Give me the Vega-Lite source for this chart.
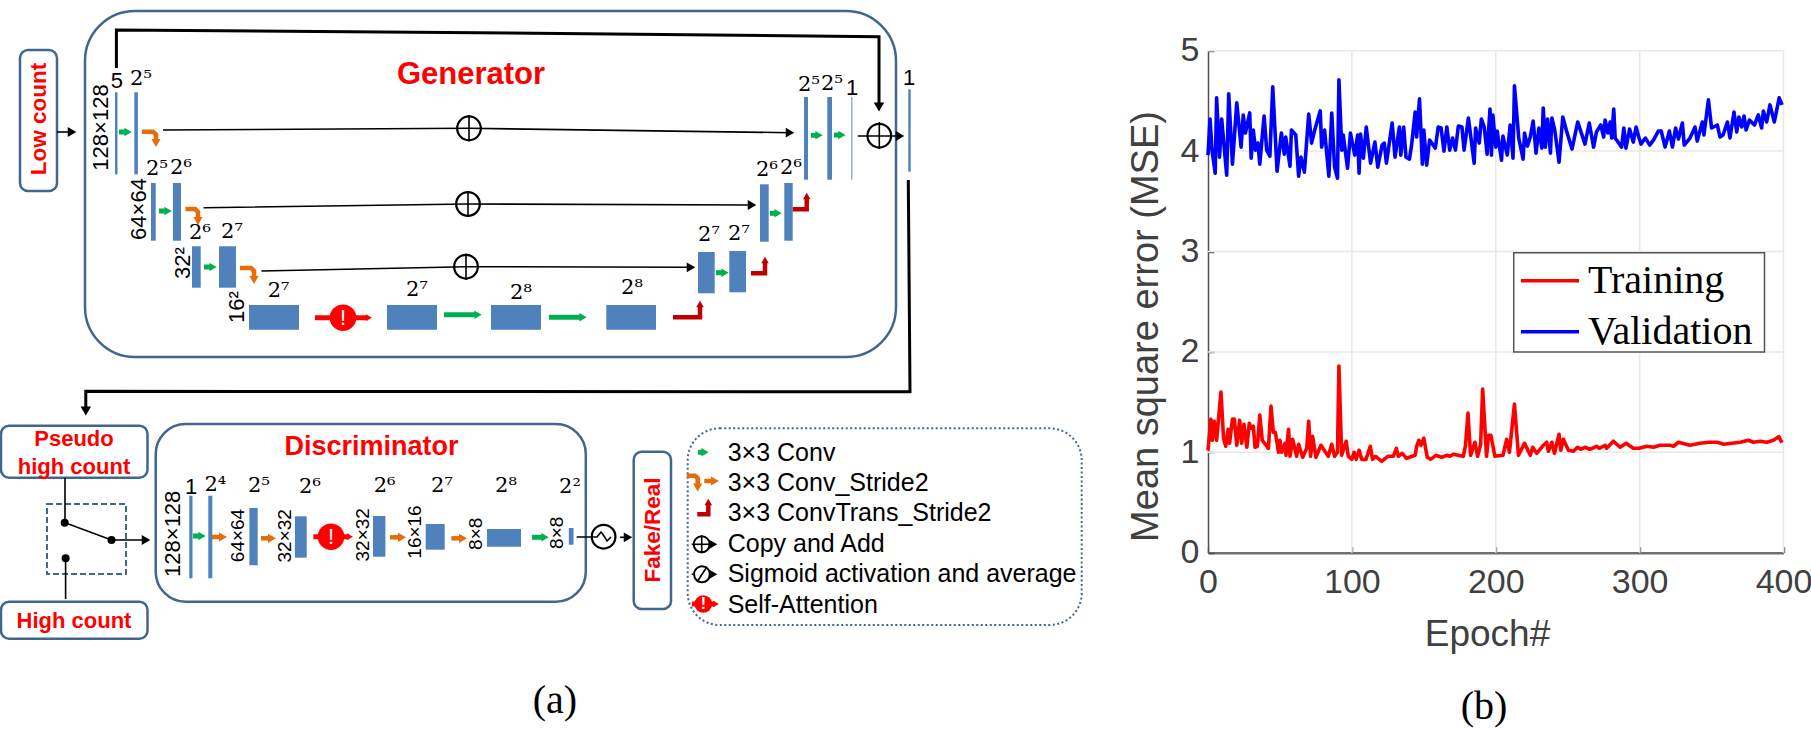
{"$schema":"https://vega.github.io/schema/vega-lite/v6.json","width":1811,"height":729,"autosize":"none","padding":0,"background":"white","config":{"view":{"stroke":null}},
"datasets":{
"bars":[
{"id":"G1","x":115,"x2":117.5,"y":92.3,"y2":174.3},{"id":"G2","x":134.3,"x2":137.9,"y":92.3,"y2":174.3},{"id":"G3","x":151,"x2":155.7,"y":183,"y2":240.7},{"id":"G4","x":172.9,"x2":181,"y":183,"y2":240.7},{"id":"G5","x":192,"x2":200.7,"y":246.3,"y2":287.7},{"id":"G6","x":219,"x2":236,"y":246.3,"y2":287.7},{"id":"B1","x":249,"x2":299,"y":305,"y2":329.7},{"id":"B2","x":387,"x2":437,"y":305,"y2":329.7},{"id":"B3","x":491,"x2":541,"y":305,"y2":329.7},{"id":"B4","x":606.3,"x2":656,"y":305,"y2":329.7},{"id":"R1","x":698,"x2":714.7,"y":252,"y2":293.3},{"id":"R2","x":729.3,"x2":746,"y":251,"y2":292.3},{"id":"R3","x":760,"x2":768.7,"y":184.3,"y2":241.7},{"id":"R4","x":784.3,"x2":792.7,"y":183,"y2":240.7},{"id":"R5","x":804,"x2":808,"y":97,"y2":179.7},{"id":"R6","x":827.3,"x2":832,"y":97,"y2":179.7},{"id":"R7","x":851.4,"x2":852.3,"y":97,"y2":179.7},{"id":"Out","x":908.3,"x2":910.7,"y":89.3,"y2":171.7},
{"id":"D1","x":189.3,"x2":192.5,"y":495.7,"y2":578.3},{"id":"D2","x":208.3,"x2":212.3,"y":495.7,"y2":578.3},{"id":"D3","x":249.4,"x2":257.7,"y":508,"y2":565.3},{"id":"D4","x":294.9,"x2":306.7,"y":516.3,"y2":557.7},{"id":"D5","x":373,"x2":385.4,"y":516,"y2":556.7},{"id":"D6","x":425.7,"x2":444.7,"y":524,"y2":549.7},{"id":"D7","x":487,"x2":521,"y":529,"y2":546.7},{"id":"D8","x":568.8,"x2":573.5,"y":528,"y2":544.7}],
"boxes":[
{"style":"generator","x":85,"x2":896,"y":11,"y2":357},{"style":"discriminator","x":155.7,"x2":585.8,"y":424,"y2":601.7},{"style":"legend","x":687.7,"x2":1081.7,"y":428.3,"y2":625},{"style":"label","x":20,"x2":57,"y":50,"y2":191},{"style":"label","x":1,"x2":147.5,"y":425.7,"y2":477.7},{"style":"label","x":1,"x2":147.5,"y":601.7,"y2":638.7},{"style":"label","x":633.7,"x2":671,"y":451.7,"y2":609},{"style":"switch","x":47,"x2":126,"y":504,"y2":574}],
"lines":[
{"id":"skip","kind":"thick","o":0,"x":116.4,"y":68},{"id":"skip","kind":"thick","o":1,"x":116.4,"y":30},{"id":"skip","kind":"thick","o":2,"x":560,"y":33.5},{"id":"skip","kind":"thick","o":3,"x":879,"y":36.7},{"id":"skip","kind":"thick","o":4,"x":879,"y":106},
{"id":"back","kind":"thick","o":0,"x":908.3,"y":180},{"id":"back","kind":"thick","o":1,"x":910,"y":391.7},{"id":"back","kind":"thick","o":2,"x":85.8,"y":391.3},{"id":"back","kind":"thick","o":3,"x":85.8,"y":410},
{"id":"in","kind":"thin","o":0,"x":57,"y":132},{"id":"in","kind":"thin","o":1,"x":72,"y":132},
{"id":"L1","kind":"thin","o":0,"x":163,"y":130},{"id":"L1","kind":"thin","o":1,"x":469,"y":128.3},{"id":"L1","kind":"thin","o":2,"x":790,"y":132.7},
{"id":"L2","kind":"thin","o":0,"x":203.6,"y":207.7},{"id":"L2","kind":"thin","o":1,"x":468,"y":204},{"id":"L2","kind":"thin","o":2,"x":752,"y":205},
{"id":"L3","kind":"thin","o":0,"x":261.4,"y":271},{"id":"L3","kind":"thin","o":1,"x":466,"y":266.7},{"id":"L3","kind":"thin","o":2,"x":691,"y":267.3},
{"id":"c1","kind":"thin","o":0,"x":469,"y":115},{"id":"c1","kind":"thin","o":1,"x":469,"y":141.5},
{"id":"c2","kind":"thin","o":0,"x":468,"y":191},{"id":"c2","kind":"thin","o":1,"x":468,"y":217},
{"id":"c3","kind":"thin","o":0,"x":466,"y":253.5},{"id":"c3","kind":"thin","o":1,"x":466,"y":280},
{"id":"c4","kind":"thin","o":0,"x":879.3,"y":122},{"id":"c4","kind":"thin","o":1,"x":879.3,"y":149},
{"id":"c5","kind":"thin","o":0,"x":857.7,"y":136},{"id":"c5","kind":"thin","o":1,"x":899,"y":136},
{"id":"sw1","kind":"thin","o":0,"x":65,"y":477.7},{"id":"sw1","kind":"thin","o":1,"x":65,"y":522.7},{"id":"sw1","kind":"thin","o":2,"x":111.5,"y":540},{"id":"sw1","kind":"thin","o":3,"x":146,"y":540},
{"id":"sw2","kind":"thin","o":0,"x":65.6,"y":558.3},{"id":"sw2","kind":"thin","o":1,"x":65.6,"y":599},
{"id":"d8","kind":"thin","o":0,"x":576.7,"y":537},{"id":"d8","kind":"thin","o":1,"x":597,"y":537},{"id":"d8","kind":"thin","o":2,"x":601,"y":532},{"id":"d8","kind":"thin","o":3,"x":604,"y":536},{"id":"d8","kind":"thin","o":4,"x":607,"y":541},{"id":"d8","kind":"thin","o":5,"x":611,"y":537},
{"id":"d9","kind":"thin","o":0,"x":620,"y":537.3},{"id":"d9","kind":"thin","o":1,"x":628,"y":537.3},
{"id":"k1","kind":"thin","o":0,"x":691.7,"y":544.3},{"id":"k1","kind":"thin","o":1,"x":712,"y":544.3},{"id":"k1b","kind":"thin","o":0,"x":701.7,"y":535.3},{"id":"k1b","kind":"thin","o":1,"x":701.7,"y":553.3},
{"id":"k2","kind":"thin","o":0,"x":691.7,"y":574.3},{"id":"k2","kind":"thin","o":1,"x":693,"y":574.3},{"id":"k2c","kind":"thin","o":0,"x":711,"y":574.3},{"id":"k2c","kind":"thin","o":1,"x":713,"y":574.3},{"id":"k2b","kind":"thin","o":0,"x":697,"y":582},{"id":"k2b","kind":"thin","o":1,"x":707,"y":566.7},
{"id":"o1","kind":"orange","o":0,"x":142,"y":131.7},{"id":"o1","kind":"orange","o":1,"x":153,"y":131.7},{"id":"o1","kind":"orange","o":2,"x":156,"y":134.5},{"id":"o1","kind":"orange","o":3,"x":156,"y":142},
{"id":"o2","kind":"orange","o":0,"x":185.4,"y":209},{"id":"o2","kind":"orange","o":1,"x":195,"y":209},{"id":"o2","kind":"orange","o":2,"x":198,"y":212},{"id":"o2","kind":"orange","o":3,"x":198,"y":220},
{"id":"o3","kind":"orange","o":0,"x":240,"y":268},{"id":"o3","kind":"orange","o":1,"x":251,"y":268},{"id":"o3","kind":"orange","o":2,"x":254,"y":271},{"id":"o3","kind":"orange","o":3,"x":254,"y":279},
{"id":"o4","kind":"orange","o":0,"x":212,"y":537},{"id":"o4","kind":"orange","o":1,"x":222,"y":537},{"id":"o5","kind":"orange","o":0,"x":261,"y":538.3},{"id":"o5","kind":"orange","o":1,"x":271,"y":538.3},{"id":"o6","kind":"orange","o":0,"x":390,"y":537.3},{"id":"o6","kind":"orange","o":1,"x":401,"y":537.3},{"id":"o7","kind":"orange","o":0,"x":451.4,"y":538.3},{"id":"o7","kind":"orange","o":1,"x":462,"y":538.3},
{"id":"o8","kind":"orange","o":0,"x":686.7,"y":475.7},{"id":"o8","kind":"orange","o":1,"x":695,"y":475.7},{"id":"o8","kind":"orange","o":2,"x":697.7,"y":478},{"id":"o8","kind":"orange","o":3,"x":697.7,"y":487},{"id":"o9","kind":"orange","o":0,"x":704.3,"y":481},{"id":"o9","kind":"orange","o":1,"x":714,"y":481},
{"id":"g1","kind":"green","o":0,"x":119,"y":132},{"id":"g1","kind":"green","o":1,"x":127,"y":132},{"id":"g2","kind":"green","o":0,"x":159,"y":211},{"id":"g2","kind":"green","o":1,"x":167,"y":211},{"id":"g3","kind":"green","o":0,"x":204,"y":267},{"id":"g3","kind":"green","o":1,"x":212,"y":267},
{"id":"g4","kind":"green","o":0,"x":444,"y":314.7},{"id":"g4","kind":"green","o":1,"x":477,"y":314.7},{"id":"g5","kind":"green","o":0,"x":549,"y":317.3},{"id":"g5","kind":"green","o":1,"x":582,"y":317.3},
{"id":"g6","kind":"green","o":0,"x":716,"y":272.7},{"id":"g6","kind":"green","o":1,"x":724,"y":272.7},{"id":"g7","kind":"green","o":0,"x":770,"y":213.3},{"id":"g7","kind":"green","o":1,"x":777,"y":213.3},{"id":"g8","kind":"green","o":0,"x":811,"y":135.3},{"id":"g8","kind":"green","o":1,"x":818,"y":135.3},{"id":"g9","kind":"green","o":0,"x":834,"y":135},{"id":"g9","kind":"green","o":1,"x":841,"y":135},
{"id":"g10","kind":"green","o":0,"x":193,"y":536},{"id":"g10","kind":"green","o":1,"x":201,"y":536},{"id":"g11","kind":"green","o":0,"x":532,"y":537.3},{"id":"g11","kind":"green","o":1,"x":544,"y":537.3},{"id":"g12","kind":"green","o":0,"x":698,"y":452.3},{"id":"g12","kind":"green","o":1,"x":704,"y":452.3},
{"id":"r1","kind":"darkred","o":0,"x":673,"y":317.3},{"id":"r1","kind":"darkred","o":1,"x":700,"y":317.3},{"id":"r1","kind":"darkred","o":2,"x":700,"y":305},
{"id":"r2","kind":"darkred","o":0,"x":751,"y":273.3},{"id":"r2","kind":"darkred","o":1,"x":765,"y":273.3},{"id":"r2","kind":"darkred","o":2,"x":765,"y":261},
{"id":"r3","kind":"darkred","o":0,"x":792.7,"y":209.3},{"id":"r3","kind":"darkred","o":1,"x":806.7,"y":209.3},{"id":"r3","kind":"darkred","o":2,"x":806.7,"y":197},
{"id":"r4","kind":"darkred","o":0,"x":697.3,"y":514.3},{"id":"r4","kind":"darkred","o":1,"x":708.3,"y":514.3},{"id":"r4","kind":"darkred","o":2,"x":708.3,"y":503},
{"id":"a1","kind":"red","o":0,"x":315,"y":317.7},{"id":"a1","kind":"red","o":1,"x":368,"y":317.7},{"id":"a2","kind":"red","o":0,"x":313.4,"y":536.7},{"id":"a2","kind":"red","o":1,"x":349,"y":536.7},{"id":"a3","kind":"red","o":0,"x":692,"y":604},{"id":"a3","kind":"red","o":1,"x":715,"y":604}],
"heads":[
{"kind":"thick","dir":"down","x":879,"y":107},{"kind":"thick","dir":"down","x":85.8,"y":411},
{"kind":"thin","dir":"right","x":72,"y":132},{"kind":"thin","dir":"right","x":790,"y":132.7},{"kind":"thin","dir":"right","x":752,"y":205},{"kind":"thin","dir":"right","x":691,"y":267.3},{"kind":"thin","dir":"right","x":900,"y":136},{"kind":"thin","dir":"right","x":146,"y":540},{"kind":"thin","dir":"right","x":628,"y":537.3},{"kind":"thin","dir":"right","x":713,"y":544.3},{"kind":"thin","dir":"right","x":713,"y":574.3},
{"kind":"orange","dir":"down","x":156,"y":143},{"kind":"orange","dir":"down","x":198,"y":221},{"kind":"orange","dir":"down","x":254,"y":280},{"kind":"orange","dir":"right","x":223,"y":537},{"kind":"orange","dir":"right","x":272,"y":538.3},{"kind":"orange","dir":"right","x":402,"y":537.3},{"kind":"orange","dir":"right","x":463,"y":538.3},{"kind":"orange","dir":"down","x":697.7,"y":487.5},{"kind":"orange","dir":"right","x":715,"y":481},
{"kind":"green","dir":"right","x":128,"y":132},{"kind":"green","dir":"right","x":168,"y":211},{"kind":"green","dir":"right","x":213,"y":267},{"kind":"green","dir":"right","x":478,"y":314.7},{"kind":"green","dir":"right","x":583,"y":317.3},{"kind":"green","dir":"right","x":725,"y":272.7},{"kind":"green","dir":"right","x":778,"y":213.3},{"kind":"green","dir":"right","x":819,"y":135.3},{"kind":"green","dir":"right","x":842,"y":135},{"kind":"green","dir":"right","x":202,"y":536},{"kind":"green","dir":"right","x":545,"y":537.3},{"kind":"green","dir":"right","x":705,"y":452.3},
{"kind":"darkred","dir":"up","x":700,"y":304},{"kind":"darkred","dir":"up","x":765,"y":260},{"kind":"darkred","dir":"up","x":806.7,"y":196},{"kind":"darkred","dir":"up","x":708.3,"y":502},
{"kind":"red","dir":"right","x":369,"y":317.7},{"kind":"red","dir":"right","x":350,"y":536.7},{"kind":"red","dir":"right","x":716,"y":604}],
"rings":[
{"kind":"large","x":469,"y":128.3},{"kind":"large","x":468,"y":204},{"kind":"large","x":466,"y":266.7},{"kind":"large","x":879.3,"y":135.7},{"kind":"large","x":603.6,"y":536.7},{"kind":"small","x":701.7,"y":544.3},{"kind":"small","x":702,"y":574.3}],
"dots":[
{"kind":"attention","x":343,"y":317.7},{"kind":"attention","x":331,"y":536.7},{"kind":"attention-key","x":703.3,"y":604},{"kind":"node","x":64.7,"y":522.7},{"kind":"node","x":111.5,"y":540},{"kind":"node","x":65.6,"y":558.3}],
"texts":[
{"style":"redH","label":"Pseudo","x":74,"y":439},{"style":"redH","label":"high count","x":74,"y":467},{"style":"redH","label":"High count","x":74,"y":621},
{"style":"redV","label":"Low count","x":39,"y":119},{"style":"redV","label":"Fake/Real","x":652.7,"y":530},
{"style":"gen","label":"Generator","x":471,"y":75},{"style":"dis","label":"Discriminator","x":371.5,"y":446.7},
{"style":"blackV","label":"128×128","x":100.7,"y":127.5},{"style":"blackV","label":"64×64","x":139,"y":209},{"style":"blackV","label":"32²","x":183,"y":263},{"style":"blackV","label":"16²","x":237,"y":307},{"style":"blackV","label":"128×128","x":172.7,"y":533.8},
{"style":"smallV","label":"64×64","x":238,"y":535.5},{"style":"smallV","label":"32×32","x":284.6,"y":535.8},{"style":"smallV","label":"32×32","x":362.5,"y":534.8},{"style":"smallV","label":"16×16","x":415,"y":532},{"style":"smallV","label":"8×8","x":476,"y":533.8},{"style":"smallV","label":"8×8","x":557.3,"y":532.8},
{"style":"blackH","label":"5","x":116.8,"y":81},{"style":"blackH","label":"1","x":852,"y":88},{"style":"blackH","label":"1","x":909,"y":78},{"style":"blackH","label":"1","x":191,"y":486.7},
{"style":"power","label":"2⁵","x":141,"y":79},{"style":"power","label":"2⁵","x":157,"y":169},{"style":"power","label":"2⁶","x":181,"y":168},{"style":"power","label":"2⁶","x":200,"y":233},{"style":"power","label":"2⁷","x":232,"y":232},{"style":"power","label":"2⁷","x":278.6,"y":291},{"style":"power","label":"2⁷","x":417,"y":290},{"style":"power","label":"2⁸","x":521,"y":293},{"style":"power","label":"2⁸","x":632,"y":288},{"style":"power","label":"2⁷","x":709,"y":235},{"style":"power","label":"2⁷","x":739,"y":234},{"style":"power","label":"2⁶","x":767,"y":170},{"style":"power","label":"2⁶","x":791,"y":168},{"style":"power","label":"2⁵","x":809,"y":85},{"style":"power","label":"2⁵","x":832,"y":84},
{"style":"power","label":"2⁴","x":215.4,"y":485},{"style":"power","label":"2⁵","x":259,"y":486},{"style":"power","label":"2⁶","x":310,"y":487},{"style":"power","label":"2⁶","x":384.6,"y":486},{"style":"power","label":"2⁷","x":442,"y":486},{"style":"power","label":"2⁸","x":506,"y":486},{"style":"power","label":"2²","x":570,"y":486.7},
{"style":"bang","label":"!","x":343,"y":317.7},{"style":"bang","label":"!","x":331,"y":536.7},{"style":"bangKey","label":"!","x":703.3,"y":604},
{"style":"key","label":"3×3 Conv","x":727.7,"y":453.3},{"style":"key","label":"3×3 Conv_Stride2","x":727.7,"y":482.7},{"style":"key","label":"3×3 ConvTrans_Stride2","x":727.7,"y":513.3},{"style":"key","label":"Copy and Add","x":727.7,"y":544.3},{"style":"key","label":"Sigmoid activation and average","x":727.7,"y":574.3},{"style":"key","label":"Self-Attention","x":727.7,"y":605},
{"style":"caption","label":"(a)","x":555,"y":701},{"style":"caption","label":"(b)","x":1484,"y":707}],
"grid":[{"e":100,"e2":100,"m":0,"m2":5},{"e":200,"e2":200,"m":0,"m2":5},{"e":300,"e2":300,"m":0,"m2":5},{"e":400,"e2":400,"m":0,"m2":5},{"e":0,"e2":400,"m":1,"m2":1},{"e":0,"e2":400,"m":2,"m2":2},{"e":0,"e2":400,"m":3,"m2":3},{"e":0,"e2":400,"m":4,"m2":4},{"e":0,"e2":400,"m":5,"m2":5}],
"frame":[{"e":212.5,"e2":386.8,"m":2.0,"m2":2.988}],
"loss":[
{"s":"Training","e":0,"v":1.02},{"s":"Training","e":2,"v":1.33},{"s":"Training","e":3,"v":1.12},{"s":"Training","e":4.4,"v":1.31},{"s":"Training","e":6,"v":1.12},{"s":"Training","e":9,"v":1.6},{"s":"Training","e":10.8,"v":1.14},{"s":"Training","e":12.3,"v":1.06},{"s":"Training","e":14,"v":1.23},{"s":"Training","e":15,"v":1.09},{"s":"Training","e":17,"v":1.33},{"s":"Training","e":18.3,"v":1.33},{"s":"Training","e":20,"v":1.07},{"s":"Training","e":22,"v":1.32},{"s":"Training","e":23.4,"v":1.09},{"s":"Training","e":25,"v":1.28},{"s":"Training","e":27,"v":1.05},{"s":"Training","e":28.7,"v":1.29},{"s":"Training","e":30,"v":1.24},{"s":"Training","e":31.5,"v":1.26},{"s":"Training","e":32.7,"v":1.05},{"s":"Training","e":34.3,"v":1.06},{"s":"Training","e":36,"v":1.37},{"s":"Training","e":37.7,"v":1.12},{"s":"Training","e":42,"v":1.04},{"s":"Training","e":43.8,"v":1.46},{"s":"Training","e":45.4,"v":1.2},{"s":"Training","e":46.8,"v":1.2},{"s":"Training","e":49,"v":1.0},{"s":"Training","e":50,"v":1.12},{"s":"Training","e":51.2,"v":1.0},{"s":"Training","e":53.5,"v":1.09},{"s":"Training","e":54.2,"v":0.97},{"s":"Training","e":56,"v":1.23},{"s":"Training","e":57,"v":0.96},{"s":"Training","e":58.8,"v":1.13},{"s":"Training","e":61.6,"v":0.96},{"s":"Training","e":63,"v":1.08},{"s":"Training","e":65.8,"v":0.95},{"s":"Training","e":68.6,"v":1.04},{"s":"Training","e":70,"v":1.31},{"s":"Training","e":71.3,"v":0.96},{"s":"Training","e":72.7,"v":1.16},{"s":"Training","e":75,"v":0.95},{"s":"Training","e":78.5,"v":1.07},{"s":"Training","e":83.6,"v":0.96},{"s":"Training","e":86,"v":1.08},{"s":"Training","e":88,"v":0.96},{"s":"Training","e":90,"v":1.0},{"s":"Training","e":91,"v":1.86},{"s":"Training","e":92.9,"v":0.97},{"s":"Training","e":96,"v":1.11},{"s":"Training","e":97.5,"v":0.96},{"s":"Training","e":100,"v":0.93},{"s":"Training","e":101.5,"v":1.0},{"s":"Training","e":103,"v":0.93},{"s":"Training","e":105,"v":1.02},{"s":"Training","e":106.8,"v":0.93},{"s":"Training","e":109.8,"v":0.93},{"s":"Training","e":112.8,"v":1.06},{"s":"Training","e":114.4,"v":0.93},{"s":"Training","e":116.5,"v":0.96},{"s":"Training","e":120.7,"v":0.91},{"s":"Training","e":125,"v":0.96},{"s":"Training","e":128.8,"v":0.96},{"s":"Training","e":130.9,"v":1.04},{"s":"Training","e":132.3,"v":0.96},{"s":"Training","e":135,"v":0.99},{"s":"Training","e":138,"v":0.94},{"s":"Training","e":144,"v":0.97},{"s":"Training","e":145,"v":1.06},{"s":"Training","e":146.6,"v":1.12},{"s":"Training","e":148,"v":1.07},{"s":"Training","e":150,"v":1.14},{"s":"Training","e":152.4,"v":0.95},{"s":"Training","e":154.7,"v":0.93},{"s":"Training","e":158.4,"v":0.97},{"s":"Training","e":162.4,"v":0.95},{"s":"Training","e":165.8,"v":0.97},{"s":"Training","e":168.2,"v":0.96},{"s":"Training","e":170.5,"v":0.98},{"s":"Training","e":177.4,"v":0.96},{"s":"Training","e":179,"v":1.07},{"s":"Training","e":180.7,"v":1.39},{"s":"Training","e":182.5,"v":0.97},{"s":"Training","e":185.5,"v":1.1},{"s":"Training","e":187.4,"v":0.96},{"s":"Training","e":189.5,"v":1.08},{"s":"Training","e":190.9,"v":1.63},{"s":"Training","e":193.6,"v":0.96},{"s":"Training","e":195,"v":1.17},{"s":"Training","e":196.6,"v":1.17},{"s":"Training","e":199.4,"v":0.96},{"s":"Training","e":205,"v":0.97},{"s":"Training","e":207.6,"v":1.13},{"s":"Training","e":209.5,"v":1.0},{"s":"Training","e":213,"v":1.48},{"s":"Training","e":215.8,"v":0.97},{"s":"Training","e":220,"v":1.09},{"s":"Training","e":224,"v":0.97},{"s":"Training","e":225.7,"v":1.05},{"s":"Training","e":228.5,"v":0.99},{"s":"Training","e":233,"v":1.07},{"s":"Training","e":235.4,"v":1.1},{"s":"Training","e":236.6,"v":1.01},{"s":"Training","e":239,"v":1.1},{"s":"Training","e":240.8,"v":0.99},{"s":"Training","e":244,"v":1.18},{"s":"Training","e":245.2,"v":1.02},{"s":"Training","e":247,"v":1.13},{"s":"Training","e":250.5,"v":1.02},{"s":"Training","e":254,"v":1.01},{"s":"Training","e":256.8,"v":1.05},{"s":"Training","e":259,"v":1.03},{"s":"Training","e":262,"v":1.05},{"s":"Training","e":265.5,"v":1.03},{"s":"Training","e":270,"v":1.06},{"s":"Training","e":272,"v":1.04},{"s":"Training","e":276,"v":1.07},{"s":"Training","e":277,"v":1.04},{"s":"Training","e":281.8,"v":1.11},{"s":"Training","e":286.4,"v":1.05},{"s":"Training","e":290.6,"v":1.09},{"s":"Training","e":295.6,"v":1.04},{"s":"Training","e":299.6,"v":1.04},{"s":"Training","e":305,"v":1.06},{"s":"Training","e":309.6,"v":1.05},{"s":"Training","e":314.2,"v":1.07},{"s":"Training","e":321,"v":1.07},{"s":"Training","e":323.5,"v":1.06},{"s":"Training","e":327,"v":1.1},{"s":"Training","e":335,"v":1.07},{"s":"Training","e":342,"v":1.09},{"s":"Training","e":348,"v":1.1},{"s":"Training","e":354,"v":1.1},{"s":"Training","e":358.6,"v":1.08},{"s":"Training","e":364,"v":1.09},{"s":"Training","e":370,"v":1.1},{"s":"Training","e":375.6,"v":1.12},{"s":"Training","e":379,"v":1.1},{"s":"Training","e":383.7,"v":1.11},{"s":"Training","e":388.4,"v":1.1},{"s":"Training","e":393,"v":1.12},{"s":"Training","e":396.7,"v":1.155},{"s":"Training","e":399,"v":1.096},
{"s":"Validation","e":0,"v":3.96},{"s":"Validation","e":1.4,"v":4.32},{"s":"Validation","e":2.8,"v":4.01},{"s":"Validation","e":5,"v":3.78},{"s":"Validation","e":6,"v":4.53},{"s":"Validation","e":8,"v":3.94},{"s":"Validation","e":9.5,"v":4.32},{"s":"Validation","e":11,"v":4.08},{"s":"Validation","e":13,"v":3.76},{"s":"Validation","e":14.4,"v":4.57},{"s":"Validation","e":17,"v":3.87},{"s":"Validation","e":20,"v":4.48},{"s":"Validation","e":23,"v":4.04},{"s":"Validation","e":24.5,"v":4.36},{"s":"Validation","e":26,"v":4.18},{"s":"Validation","e":29,"v":4.38},{"s":"Validation","e":30,"v":3.93},{"s":"Validation","e":31.5,"v":4.21},{"s":"Validation","e":33,"v":4.01},{"s":"Validation","e":34.7,"v":4.08},{"s":"Validation","e":36,"v":3.87},{"s":"Validation","e":39,"v":4.35},{"s":"Validation","e":40.8,"v":4.01},{"s":"Validation","e":43,"v":3.95},{"s":"Validation","e":45,"v":4.64},{"s":"Validation","e":48,"v":3.8},{"s":"Validation","e":51,"v":4.18},{"s":"Validation","e":53,"v":3.97},{"s":"Validation","e":54,"v":4.14},{"s":"Validation","e":57,"v":3.85},{"s":"Validation","e":58,"v":4.21},{"s":"Validation","e":61,"v":4.16},{"s":"Validation","e":63,"v":3.75},{"s":"Validation","e":64.6,"v":3.94},{"s":"Validation","e":67,"v":3.79},{"s":"Validation","e":70,"v":4.37},{"s":"Validation","e":72,"v":4.08},{"s":"Validation","e":74,"v":4.2},{"s":"Validation","e":78,"v":4.4},{"s":"Validation","e":79,"v":4.04},{"s":"Validation","e":81,"v":4.21},{"s":"Validation","e":84,"v":3.75},{"s":"Validation","e":86,"v":4.38},{"s":"Validation","e":88,"v":3.84},{"s":"Validation","e":90,"v":3.73},{"s":"Validation","e":91,"v":4.71},{"s":"Validation","e":93,"v":4.01},{"s":"Validation","e":94,"v":4.16},{"s":"Validation","e":97,"v":3.83},{"s":"Validation","e":99,"v":4.18},{"s":"Validation","e":102,"v":3.96},{"s":"Validation","e":104,"v":4.16},{"s":"Validation","e":105,"v":3.78},{"s":"Validation","e":106,"v":4.17},{"s":"Validation","e":108,"v":3.93},{"s":"Validation","e":110,"v":4.24},{"s":"Validation","e":113,"v":3.88},{"s":"Validation","e":116,"v":4.09},{"s":"Validation","e":118,"v":3.84},{"s":"Validation","e":121,"v":4.06},{"s":"Validation","e":122.5,"v":4.08},{"s":"Validation","e":124,"v":3.88},{"s":"Validation","e":128,"v":4.28},{"s":"Validation","e":130,"v":3.94},{"s":"Validation","e":133,"v":4.24},{"s":"Validation","e":134,"v":3.96},{"s":"Validation","e":136,"v":4.24},{"s":"Validation","e":137.6,"v":3.94},{"s":"Validation","e":140,"v":3.92},{"s":"Validation","e":141.5,"v":4.06},{"s":"Validation","e":144,"v":4.39},{"s":"Validation","e":145,"v":4.14},{"s":"Validation","e":147,"v":4.52},{"s":"Validation","e":149,"v":3.87},{"s":"Validation","e":150,"v":4.21},{"s":"Validation","e":152,"v":3.86},{"s":"Validation","e":154,"v":4.11},{"s":"Validation","e":158,"v":4.03},{"s":"Validation","e":160,"v":4.24},{"s":"Validation","e":162,"v":4.23},{"s":"Validation","e":164,"v":4.0},{"s":"Validation","e":166,"v":4.24},{"s":"Validation","e":168,"v":4.01},{"s":"Validation","e":170,"v":4.13},{"s":"Validation","e":172,"v":4.01},{"s":"Validation","e":174,"v":4.25},{"s":"Validation","e":176.5,"v":4.24},{"s":"Validation","e":178,"v":4.01},{"s":"Validation","e":181,"v":4.33},{"s":"Validation","e":185,"v":3.88},{"s":"Validation","e":186,"v":4.23},{"s":"Validation","e":188.5,"v":4.08},{"s":"Validation","e":190,"v":4.32},{"s":"Validation","e":192,"v":4.24},{"s":"Validation","e":194,"v":3.97},{"s":"Validation","e":196,"v":4.42},{"s":"Validation","e":197,"v":3.96},{"s":"Validation","e":198,"v":4.36},{"s":"Validation","e":200,"v":4.04},{"s":"Validation","e":201,"v":4.2},{"s":"Validation","e":204,"v":3.91},{"s":"Validation","e":205,"v":4.15},{"s":"Validation","e":208,"v":3.96},{"s":"Validation","e":210,"v":4.26},{"s":"Validation","e":212,"v":3.93},{"s":"Validation","e":213,"v":4.65},{"s":"Validation","e":216,"v":4.13},{"s":"Validation","e":219,"v":3.92},{"s":"Validation","e":220,"v":4.18},{"s":"Validation","e":222,"v":4.05},{"s":"Validation","e":224,"v":4.14},{"s":"Validation","e":226,"v":4.3},{"s":"Validation","e":228,"v":3.98},{"s":"Validation","e":230,"v":4.23},{"s":"Validation","e":232,"v":4.03},{"s":"Validation","e":233,"v":4.43},{"s":"Validation","e":234.5,"v":4.04},{"s":"Validation","e":236,"v":4.32},{"s":"Validation","e":238,"v":3.98},{"s":"Validation","e":239,"v":4.33},{"s":"Validation","e":241,"v":4.21},{"s":"Validation","e":244,"v":3.89},{"s":"Validation","e":246.6,"v":4.34},{"s":"Validation","e":249,"v":4.21},{"s":"Validation","e":253,"v":4.02},{"s":"Validation","e":257,"v":4.29},{"s":"Validation","e":262,"v":4.07},{"s":"Validation","e":265,"v":4.28},{"s":"Validation","e":268,"v":4.04},{"s":"Validation","e":270,"v":4.19},{"s":"Validation","e":273,"v":4.26},{"s":"Validation","e":275,"v":4.14},{"s":"Validation","e":276,"v":4.31},{"s":"Validation","e":278,"v":4.18},{"s":"Validation","e":279.5,"v":4.29},{"s":"Validation","e":280.6,"v":4.13},{"s":"Validation","e":282,"v":4.42},{"s":"Validation","e":283,"v":4.13},{"s":"Validation","e":287.5,"v":4.04},{"s":"Validation","e":289,"v":4.23},{"s":"Validation","e":290.5,"v":4.03},{"s":"Validation","e":293,"v":4.22},{"s":"Validation","e":295.6,"v":4.09},{"s":"Validation","e":297.5,"v":4.24},{"s":"Validation","e":299.6,"v":4.13},{"s":"Validation","e":301,"v":4.07},{"s":"Validation","e":304,"v":4.13},{"s":"Validation","e":307,"v":4.06},{"s":"Validation","e":309.6,"v":4.11},{"s":"Validation","e":313,"v":4.2},{"s":"Validation","e":315,"v":4.2},{"s":"Validation","e":317.7,"v":4.04},{"s":"Validation","e":320.7,"v":4.2},{"s":"Validation","e":322.8,"v":4.04},{"s":"Validation","e":325,"v":4.23},{"s":"Validation","e":327,"v":4.12},{"s":"Validation","e":329.7,"v":4.28},{"s":"Validation","e":331,"v":4.06},{"s":"Validation","e":335,"v":4.13},{"s":"Validation","e":338.5,"v":4.24},{"s":"Validation","e":340,"v":4.1},{"s":"Validation","e":343.6,"v":4.29},{"s":"Validation","e":344.7,"v":4.16},{"s":"Validation","e":347.8,"v":4.51},{"s":"Validation","e":350,"v":4.23},{"s":"Validation","e":354,"v":4.26},{"s":"Validation","e":355.9,"v":4.14},{"s":"Validation","e":358,"v":4.16},{"s":"Validation","e":361,"v":4.29},{"s":"Validation","e":362.8,"v":4.13},{"s":"Validation","e":365.6,"v":4.39},{"s":"Validation","e":367.5,"v":4.19},{"s":"Validation","e":369,"v":4.34},{"s":"Validation","e":371,"v":4.24},{"s":"Validation","e":372.6,"v":4.35},{"s":"Validation","e":374,"v":4.21},{"s":"Validation","e":376.3,"v":4.31},{"s":"Validation","e":379.8,"v":4.26},{"s":"Validation","e":382.5,"v":4.36},{"s":"Validation","e":384.8,"v":4.23},{"s":"Validation","e":386,"v":4.4},{"s":"Validation","e":388.3,"v":4.29},{"s":"Validation","e":390.6,"v":4.46},{"s":"Validation","e":393.6,"v":4.29},{"s":"Validation","e":397,"v":4.53},{"s":"Validation","e":399,"v":4.46}]
},
"layer":[
{"resolve":{"scale":{"color":"independent","size":"independent","shape":"independent"}},"encoding":{"x":{"field":"x","type":"quantitative","axis":null,"scale":{"domain":[0,1811],"range":[0,1811],"nice":false,"zero":false}},"y":{"field":"y","type":"quantitative","axis":null,"scale":{"domain":[0,729],"range":[0,729],"nice":false,"zero":false}}},
"layer":[
{"data":{"name":"boxes"},"transform":[{"filter":"datum.style=='generator'"}],"mark":{"type":"rect","fill":null,"stroke":"#41668f","strokeWidth":2.5,"cornerRadius":50},"encoding":{"x2":{"field":"x2"},"y2":{"field":"y2"}}},
{"data":{"name":"boxes"},"transform":[{"filter":"datum.style=='discriminator'"}],"mark":{"type":"rect","fill":null,"stroke":"#41668f","strokeWidth":2.5,"cornerRadius":30},"encoding":{"x2":{"field":"x2"},"y2":{"field":"y2"}}},
{"data":{"name":"boxes"},"transform":[{"filter":"datum.style=='legend'"}],"mark":{"type":"rect","fill":null,"stroke":"#41668f","strokeWidth":2,"strokeDash":[2,2.5],"cornerRadius":32},"encoding":{"x2":{"field":"x2"},"y2":{"field":"y2"}}},
{"data":{"name":"boxes"},"transform":[{"filter":"datum.style=='label'"}],"mark":{"type":"rect","fill":null,"stroke":"#41668f","strokeWidth":2.5,"cornerRadius":8},"encoding":{"x2":{"field":"x2"},"y2":{"field":"y2"}}},
{"data":{"name":"boxes"},"transform":[{"filter":"datum.style=='switch'"}],"mark":{"type":"rect","fill":null,"stroke":"#41668f","strokeWidth":2,"strokeDash":[6,3]},"encoding":{"x2":{"field":"x2"},"y2":{"field":"y2"}}},
{"data":{"name":"bars"},"mark":{"type":"rect","fill":"#4f81bd"},"encoding":{"x2":{"field":"x2"},"y2":{"field":"y2"}}},
{"data":{"name":"lines"},"transform":[{"filter":"datum.kind=='thick'"}],"mark":{"type":"line","color":"#000000","strokeWidth":3},"encoding":{"detail":{"field":"id"},"order":{"field":"o"}}},
{"data":{"name":"lines"},"transform":[{"filter":"datum.kind=='thin'"}],"mark":{"type":"line","color":"#000000","strokeWidth":1.6},"encoding":{"detail":{"field":"id"},"order":{"field":"o"}}},
{"data":{"name":"lines"},"transform":[{"filter":"datum.kind=='orange'"}],"mark":{"type":"line","color":"#e46c0a","strokeWidth":4.5},"encoding":{"detail":{"field":"id"},"order":{"field":"o"}}},
{"data":{"name":"lines"},"transform":[{"filter":"datum.kind=='green'"}],"mark":{"type":"line","color":"#00b050","strokeWidth":5},"encoding":{"detail":{"field":"id"},"order":{"field":"o"}}},
{"data":{"name":"lines"},"transform":[{"filter":"datum.kind=='darkred'"}],"mark":{"type":"line","color":"#c00000","strokeWidth":4.5},"encoding":{"detail":{"field":"id"},"order":{"field":"o"}}},
{"data":{"name":"lines"},"transform":[{"filter":"datum.kind=='red'"}],"mark":{"type":"line","color":"#ff0000","strokeWidth":5},"encoding":{"detail":{"field":"id"},"order":{"field":"o"}}},
{"data":{"name":"heads"},"mark":{"type":"point","filled":true,"opacity":1},"encoding":{"shape":{"field":"dir","type":"nominal","legend":null,"scale":{"domain":["right","down","up"],"range":["triangle-right","triangle-down","triangle-up"]}},"color":{"field":"kind","type":"nominal","legend":null,"scale":{"domain":["thick","thin","orange","green","darkred","red"],"range":["#000000","#000000","#e46c0a","#00b050","#c00000","#ff0000"]}},"size":{"field":"kind","type":"nominal","legend":null,"scale":{"domain":["thick","thin","orange","green","darkred","red"],"range":[110,45,70,70,70,70]}}}},
{"data":{"name":"rings"},"transform":[{"filter":"datum.kind=='large'"}],"mark":{"type":"point","filled":false,"stroke":"#000000","strokeWidth":2.2,"opacity":1,"size":560}},
{"data":{"name":"rings"},"transform":[{"filter":"datum.kind=='small'"}],"mark":{"type":"point","filled":false,"stroke":"#000000","strokeWidth":2,"opacity":1,"size":254}},
{"data":{"name":"dots"},"transform":[{"filter":"datum.kind=='attention'"}],"mark":{"type":"point","filled":true,"shape":"circle","opacity":1,"color":"#ff0000","size":707}},
{"data":{"name":"dots"},"transform":[{"filter":"datum.kind=='attention-key'"}],"mark":{"type":"point","filled":true,"shape":"circle","opacity":1,"color":"#ff0000","size":314}},
{"data":{"name":"dots"},"transform":[{"filter":"datum.kind=='node'"}],"mark":{"type":"point","filled":true,"shape":"circle","opacity":1,"color":"#000000","size":64}},
{"data":{"name":"texts"},"transform":[{"filter":"datum.style=='redH'"}],"mark":{"type":"text","font":"Liberation Sans","fontWeight":"bold","fontSize":22,"fill":"#ff0000","baseline":"middle"},"encoding":{"text":{"field":"label"}}},
{"data":{"name":"texts"},"transform":[{"filter":"datum.style=='redV'"}],"mark":{"type":"text","font":"Liberation Sans","fontWeight":"bold","fontSize":22.5,"fill":"#ff0000","baseline":"middle","angle":270},"encoding":{"text":{"field":"label"}}},
{"data":{"name":"texts"},"transform":[{"filter":"datum.style=='gen'"}],"mark":{"type":"text","font":"Liberation Sans","fontWeight":"bold","fontSize":31,"fill":"#ff0000","baseline":"middle"},"encoding":{"text":{"field":"label"}}},
{"data":{"name":"texts"},"transform":[{"filter":"datum.style=='dis'"}],"mark":{"type":"text","font":"Liberation Sans","fontWeight":"bold","fontSize":27,"fill":"#ff0000","baseline":"middle"},"encoding":{"text":{"field":"label"}}},
{"data":{"name":"texts"},"transform":[{"filter":"datum.style=='blackV'"}],"mark":{"type":"text","font":"Liberation Sans","fontSize":22,"fill":"#000000","baseline":"middle","angle":270},"encoding":{"text":{"field":"label"}}},
{"data":{"name":"texts"},"transform":[{"filter":"datum.style=='smallV'"}],"mark":{"type":"text","font":"Liberation Sans","fontSize":19,"fill":"#000000","baseline":"middle","angle":270},"encoding":{"text":{"field":"label"}}},
{"data":{"name":"texts"},"transform":[{"filter":"datum.style=='blackH'"}],"mark":{"type":"text","font":"Liberation Sans","fontSize":22,"fill":"#000000","baseline":"middle"},"encoding":{"text":{"field":"label"}}},
{"data":{"name":"texts"},"transform":[{"filter":"datum.style=='power'"}],"mark":{"type":"text","font":"DejaVu Serif","fontSize":21,"fill":"#000000","baseline":"middle"},"encoding":{"text":{"field":"label"}}},
{"data":{"name":"texts"},"transform":[{"filter":"datum.style=='bang'"}],"mark":{"type":"text","font":"Liberation Sans","fontSize":22,"fill":"#ffffff","baseline":"middle"},"encoding":{"text":{"field":"label"}}},
{"data":{"name":"texts"},"transform":[{"filter":"datum.style=='bangKey'"}],"mark":{"type":"text","font":"Liberation Sans","fontWeight":"bold","fontSize":16,"fill":"#ffffff","baseline":"middle"},"encoding":{"text":{"field":"label"}}},
{"data":{"name":"texts"},"transform":[{"filter":"datum.style=='key'"}],"mark":{"type":"text","font":"Liberation Sans","fontSize":25,"fill":"#000000","align":"left","baseline":"middle"},"encoding":{"text":{"field":"label"}}},
{"data":{"name":"texts"},"transform":[{"filter":"datum.style=='caption'"}],"mark":{"type":"text","font":"Liberation Serif","fontSize":40,"fill":"#000000","baseline":"middle"},"encoding":{"text":{"field":"label"}}}
]},
{"layer":[
{"data":{"name":"grid"},"mark":{"type":"rule","color":"#e8e8e8","strokeWidth":1.5},"encoding":{
"x":{"field":"e","type":"quantitative","title":"Epoch#","scale":{"domain":[0,400],"range":[1208,1783.5],"nice":false},"axis":{"orient":"bottom","offset":-176.3,"values":[0,100,200,300,400],"format":"d","grid":false,"domainColor":"#707070","domainWidth":2.5,"tickColor":"#707070","tickWidth":1.5,"tickSize":-6,"labelFont":"Liberation Sans","labelFontSize":34,"labelColor":"#404040","labelPadding":18.5,"labelFlush":false,"titleFont":"Liberation Sans","titleFontSize":37,"titleFontWeight":"normal","titleColor":"#404040","titlePadding":17,"titleX":1487}},
"x2":{"field":"e2"},
"y":{"field":"m","type":"quantitative","title":"Mean square error (MSE)","scale":{"domain":[0,5],"range":[552.7,50.7],"nice":false},"axis":{"orient":"left","offset":-1208,"values":[0,1,2,3,4,5],"format":"d","grid":false,"domainColor":"#505050","domainWidth":1.5,"tickColor":"#505050","tickWidth":1.5,"tickSize":-6,"labelFont":"Liberation Sans","labelFontSize":34,"labelColor":"#404040","labelPadding":15,"labelFlush":false,"titleFont":"Liberation Sans","titleFontSize":38,"titleFontWeight":"normal","titleColor":"#404040","titleY":326,"titleX":-43}},
"y2":{"field":"m2"}}},
{"data":{"name":"loss"},"mark":{"type":"line","strokeWidth":3.6,"strokeJoin":"round"},"encoding":{
"x":{"field":"e","type":"quantitative"},
"y":{"field":"v","type":"quantitative"},
"color":{"field":"s","type":"nominal","title":null,"scale":{"domain":["Training","Validation"],"range":["#ff0000","#0000ff"]},"legend":{"orient":"none","legendX":1519,"legendY":249.7,"title":null,"symbolType":"stroke","symbolSize":3364,"symbolStrokeWidth":3.6,"labelFont":"Liberation Serif","labelFontSize":40,"labelLimit":400,"labelColor":"#000000","padding":0,"rowPadding":-7.5,"labelOffset":7}},
"order":{"field":"e"}}},
{"data":{"name":"frame"},"mark":{"type":"rect","fill":"#ffffff","stroke":"#555555","strokeWidth":1.5},"encoding":{"x":{"field":"e","type":"quantitative"},"x2":{"field":"e2"},"y":{"field":"m","type":"quantitative"},"y2":{"field":"m2"}}}
]}
],
"resolve":{"scale":{"x":"independent","y":"independent","color":"independent"},"axis":{"x":"independent","y":"independent"}}
}
